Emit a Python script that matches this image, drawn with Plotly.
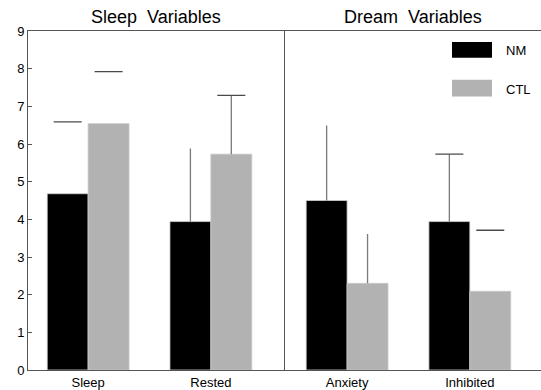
import plotly.graph_objects as go
from plotly.subplots import make_subplots
import numpy as np

panel_titles = ["Sleep\u00a0 Variables", "Dream\u00a0 Variables"]
sleep_categories = ["Sleep", "Rested"]
dream_categories = ["Anxiety", "Inhibited"]
series_names = ["NM", "CTL"]

# means
nm_sleep = [4.68, 3.94]
ctl_sleep = [6.54, 5.73]
nm_dream = [4.50, 3.94]
ctl_dream = [2.30, 2.09]

# upper ends of the error bars
nm_sleep_top = [6.59, 5.88]
ctl_sleep_top = [7.92, 7.29]
nm_dream_top = [6.49, 5.73]
ctl_dream_top = [3.61, 3.71]

# which parts of each error bar are drawn in the original
nm_sleep_stem = [False, True]
ctl_sleep_stem = [False, True]
nm_dream_stem = [True, True]
ctl_dream_stem = [True, False]
nm_sleep_cap = [True, False]
ctl_sleep_cap = [True, True]
nm_dream_cap = [False, True]
ctl_dream_cap = [False, True]

y_ticks = list(range(0, 10))

NM_COLOR = "#000000"
CTL_COLOR = "#b2b2b2"
AXIS_COLOR = "#555555"
STEM_COLOR = "#7a7a7a"
CAP_COLOR = "#4a4a4a"
FONT = "Liberation Sans, Arial, sans-serif"

fig = make_subplots(rows=1, cols=2, shared_yaxes=False, horizontal_spacing=0)

BAR_W = 1 / 3

def add_panel(col, cats, nm, ctl, nm_top, ctl_top, nm_stem, ctl_stem, nm_cap, ctl_cap):
    idx = np.arange(len(cats))
    for vals, tops, stems, caps, color, off, name in [
        (nm, nm_top, nm_stem, nm_cap, NM_COLOR, -BAR_W / 2, "NM"),
        (ctl, ctl_top, ctl_stem, ctl_cap, CTL_COLOR, BAR_W / 2, "CTL"),
    ]:
        vals = np.array(vals)
        tops = np.array(tops)
        stem_len = np.where(stems, tops - vals, 0)
        xs = idx + off
        fig.add_trace(go.Bar(
            x=xs, y=vals, width=BAR_W, name=name, showlegend=False,
            marker=dict(color=color, line=dict(width=0.8, color="#d0d0d0" if color == NM_COLOR else "#c8c8c8")),
            error_y=dict(type="data", symmetric=False, array=stem_len,
                         arrayminus=np.zeros_like(vals), width=0,
                         thickness=1.3, color=STEM_COLOR),
        ), row=1, col=col)
        cap_mask = np.array(caps)
        fig.add_trace(go.Scatter(
            x=xs[cap_mask], y=tops[cap_mask], mode="markers", showlegend=False,
            marker=dict(symbol="line-ew", size=20, line=dict(width=1.3, color=CAP_COLOR)),
            hoverinfo="skip",
        ), row=1, col=col)

add_panel(1, sleep_categories, nm_sleep, ctl_sleep, nm_sleep_top, ctl_sleep_top,
          nm_sleep_stem, ctl_sleep_stem, nm_sleep_cap, ctl_sleep_cap)
add_panel(2, dream_categories, nm_dream, ctl_dream, nm_dream_top, ctl_dream_top,
          nm_dream_stem, ctl_dream_stem, nm_dream_cap, ctl_dream_cap)

W, H = 541, 390
ML, MR, MT, MB = 28, 0, 31, 18

for col, cats, rng in [(1, sleep_categories, [-0.49, 1.6]), (2, dream_categories, [-0.51, 1.58])]:
    fig.update_xaxes(range=rng, tickvals=[0, 1], ticktext=cats,
                     showline=True, linecolor=AXIS_COLOR, linewidth=1, mirror=True,
                     ticks="", showgrid=False, zeroline=False,
                     tickfont=dict(family=FONT, size=13, color="#000"),
                     row=1, col=col)
    fig.update_yaxes(range=[0, 9], showline=True, linecolor=AXIS_COLOR, linewidth=1,
                     showgrid=False, zeroline=False, row=1, col=col)

fig.update_yaxes(tickvals=y_ticks, ticktext=[str(t) for t in y_ticks],
                 ticks="inside", ticklen=4, tickcolor=AXIS_COLOR, tickwidth=1,
                 tickfont=dict(family=FONT, size=13, color="#000"), row=1, col=1)
fig.update_yaxes(showticklabels=False, ticks="", row=1, col=2)

annotations = []
for i, t in enumerate(panel_titles):
    annotations.append(dict(text=t, x=0.25 + 0.5 * i, y=1, xref="paper", yref="paper",
                            xanchor="center", yanchor="middle", yshift=14, showarrow=False,
                            font=dict(family=FONT, size=18, color="#000")))

# legend drawn manually
pw = W - ML - MR
ph = H - MT - MB
def px2paper(x, y):
    return (x - ML) / pw, (H - MB - y) / ph

shapes = []
for name, color, y0, y1 in [(series_names[0], NM_COLOR, 42, 58), (series_names[1], CTL_COLOR, 80, 97)]:
    x0p, y0p = px2paper(452, y1)
    x1p, y1p = px2paper(492, y0)
    shapes.append(dict(type="rect", xref="paper", yref="paper", x0=x0p, x1=x1p, y0=y0p, y1=y1p,
                       fillcolor=color, line=dict(width=0)))
    tx, ty = px2paper(504, (y0 + y1) / 2 + 1)
    annotations.append(dict(text=name, x=tx, y=ty, xref="paper", yref="paper",
                            xanchor="left", yanchor="middle", showarrow=False,
                            font=dict(family=FONT, size=13, color="#000")))

fig.update_layout(
    width=W, height=H,
    margin=dict(l=ML, r=MR, t=MT, b=MB),
    paper_bgcolor="white", plot_bgcolor="white",
    barmode="overlay", showlegend=False,
    annotations=annotations, shapes=shapes,
)

fig.write_html("out.html", config={"displayModeBar": False},
               post_script="document.body.style.margin='0';document.body.style.overflow='hidden';")
